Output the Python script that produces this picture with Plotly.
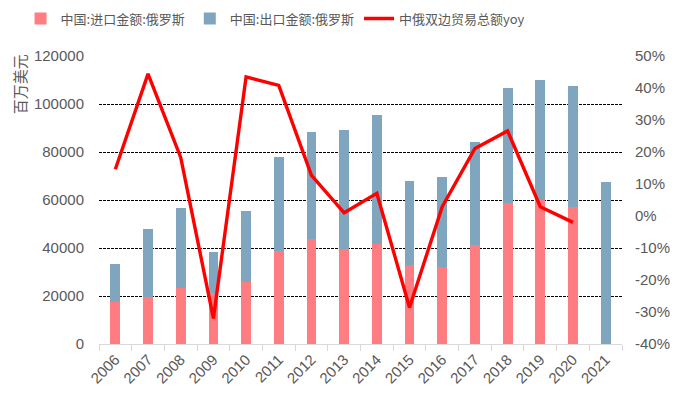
import plotly.graph_objects as go

years = ["2006", "2007", "2008", "2009", "2010", "2011", "2012", "2013",
         "2014", "2015", "2016", "2017", "2018", "2019", "2020", "2021"]
imports = [17500, 19700, 23500, 21200, 26000, 38800, 43600, 39600,
           41500, 32900, 32000, 41100, 58600, 60000, 57200, None]
exports = [15800, 28200, 33200, 17100, 29300, 39000, 44600, 49600,
           53900, 34900, 37700, 43200, 48200, 49900, 50400, 67400]
yoy = [14.6, 44.4, 18.3, -32.0, 43.5, 40.8, 12.7, 1.0,
       7.1, -28.6, 2.9, 21.1, 26.6, 2.9, -2.0, None]

left_ticks = [0, 20000, 40000, 60000, 80000, 100000, 120000]
right_ticks = [-40, -30, -20, -10, 0, 10, 20, 30, 40, 50]

gray = "#595959"
font_cjk = "Noto Sans CJK SC"

fig = go.Figure()
fig.add_trace(go.Bar(x=years, y=imports, name="中国:进口金额:俄罗斯",
                     marker_color="#FF7C80", marker_line_width=0, width=0.3))
fig.add_trace(go.Bar(x=years, y=exports, name="中国:出口金额:俄罗斯",
                     marker_color="#7FA5BF", marker_line_width=0, width=0.3))
fig.add_trace(go.Scatter(x=years, y=yoy, name="中俄双边贸易总额yoy", yaxis="y2",
                         mode="lines", line=dict(color="#FF0000", width=3.4)))

# the page body adds an 8px offset, so the figure is sized to fit the remaining window
fig.update_layout(
    width=670, height=391,
    margin=dict(l=91, r=56, t=48, b=55, autoexpand=False),
    barmode="stack",
    plot_bgcolor="white", paper_bgcolor="white",
    font=dict(family="Liberation Sans, Arial", color=gray, size=15),
    showlegend=True,
    legend=dict(orientation="h", traceorder="normal",
                x=-0.15, xanchor="left", y=1.13, yanchor="middle",
                font=dict(family=font_cjk, size=13, color=gray),
                itemwidth=30, tracegroupgap=0, bgcolor="rgba(0,0,0,0)"),
    xaxis=dict(type="category", showline=True, linecolor="#D9D9D9", linewidth=1,
               ticks="outside", tickson="boundaries", tickcolor="#D9D9D9", ticklen=6,
               tickangle=-45, tickfont=dict(size=15, color=gray), showgrid=False,
               automargin=False),
    yaxis=dict(range=[0, 120000], tickvals=left_ticks, ticktext=[str(v) for v in left_ticks],
               showgrid=True, gridcolor="#000000", gridwidth=1, griddash="3px,1px",
               zeroline=False, showline=False, ticks="", ticklabelstandoff=14,
               tickfont=dict(size=15, color=gray), automargin=False),
    yaxis2=dict(range=[-40, 50], overlaying="y", side="right", tickvals=right_ticks,
                ticktext=[f"{v}%" for v in right_ticks], showgrid=False, zeroline=False,
                showline=False, ticks="", ticklabelstandoff=12,
                tickfont=dict(size=15, color=gray), automargin=False),
    annotations=[dict(text="百万美元", textangle=-90, xref="paper", yref="paper",
                      x=-0.152, y=0.9, xanchor="center", yanchor="middle",
                      showarrow=False, font=dict(family=font_cjk, size=15, color=gray))],
)

fig.write_html("out.html")
